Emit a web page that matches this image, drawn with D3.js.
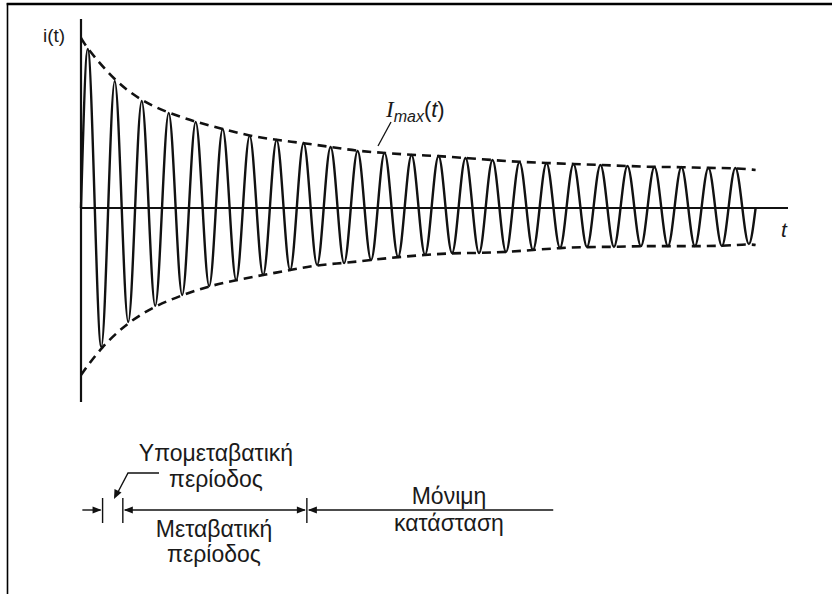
<!DOCTYPE html>
<html>
<head>
<meta charset="utf-8">
<script src="https://cdn.jsdelivr.net/npm/d3@7"></script>
<style>
  html, body { margin: 0; padding: 0; background: #fff; }
  svg { display: block; }
  text { fill: #1a1a1a; }
</style>
</head>
<body>
<svg id="chart" width="832" height="594"></svg>
<script>
// Short-circuit current i(t): amplitude of each positive peak and each
// negative trough, one value per cycle, in % of the initial peak value.
const peakValues = [93.5, 74.7, 62.9, 55.9, 50.6, 46.5, 42.4, 40.0, 38.2, 35.9,
                    33.5, 32.4, 31.2, 30.6, 29.4, 28.2, 27.1, 26.5, 25.9, 25.3,
                    24.7, 24.1, 24.1, 23.5, 23.5];
const troughValues = [81.8, 67.1, 57.6, 51.2, 45.9, 42.4, 39.4, 36.5, 33.5, 32.4,
                      30.6, 28.8, 27.6, 26.5, 26.5, 25.9, 24.7, 23.5, 22.9, 22.9,
                      22.4, 22.4, 22.4, 22.4, 21.2];
// Envelope I_max(t) at the start and at the end of the trace (%).
const envelopeStart = { top: 100, bottom: 98.2 };
const envelopeEnd = { top: 22.4, bottom: 21.8 };
const traceEnd = 25;            // cycles shown
// Time boundaries (in cycles) of the three periods and the span of the dimension line.
const phaseBounds = [0.8, 1.55, 8.37];
const dimensionSpan = [0.05, 17.5];
const phaseLabels = [
  ["Υπομεταβατική", "περίοδος"],
  ["Μεταβατική", "περίοδος"],
  ["Μόνιμη", "κατάσταση"]
];

const svg = d3.select("#chart");
const ink = "#111";

// Scales: time in cycles, current in % of first peak.
const x = d3.scaleLinear().domain([0, 26.2]).range([81, 788]);
const y = d3.scaleLinear().domain([-100, 100]).range([378, 38]);

// Frame
svg.append("line").attr("x1", 7.5).attr("x2", 7.5).attr("y1", 3).attr("y2", 594)
  .attr("stroke", "#000").attr("stroke-width", 1.6);
svg.append("line").attr("x1", 6.7).attr("x2", 832).attr("y1", 4).attr("y2", 4)
  .attr("stroke", "#000").attr("stroke-width", 2.4);

// Axes
svg.append("line").attr("x1", x(0)).attr("x2", x(0)).attr("y1", 19).attr("y2", 402)
  .attr("stroke", ink).attr("stroke-width", 2.2);
svg.append("line").attr("x1", x(0)).attr("x2", x.range()[1]).attr("y1", y(0)).attr("y2", y(0))
  .attr("stroke", ink).attr("stroke-width", 2.2);

svg.append("text").attr("x", 43).attr("y", 42)
  .attr("font-family", "Liberation Sans, Arial, sans-serif").attr("font-size", 19)
  .text("i(t)");
svg.append("text").attr("x", 781).attr("y", 237)
  .attr("font-family", "Liberation Sans, Arial, sans-serif").attr("font-size", 21)
  .attr("font-style", "italic").text("t");

// Waveform: zero at t=0, alternating peaks and troughs, back to zero at the end.
const wavePoints = [[0, 0]];
peakValues.forEach((p, k) => {
  wavePoints.push([k + 0.25, p]);
  wavePoints.push([k + 0.75, -troughValues[k]]);
});
wavePoints.push([traceEnd, 0]);

const line = d3.line().x(d => x(d[0])).y(d => y(d[1])).curve(d3.curveMonotoneX);
svg.append("path").attr("d", line(wavePoints))
  .attr("fill", "none").attr("stroke", ink).attr("stroke-width", 2.4)
  .attr("stroke-linejoin", "round");

// Envelope I_max(t), dashed, through the peaks and the troughs.
const topEnv = [[0, envelopeStart.top]]
  .concat(peakValues.map((p, k) => [k + 0.25, p]))
  .concat([[traceEnd, envelopeEnd.top]]);
const botEnv = [[0, -envelopeStart.bottom]]
  .concat(troughValues.map((p, k) => [k + 0.75, -p]))
  .concat([[traceEnd, -envelopeEnd.bottom]]);
const envLine = d3.line().x(d => x(d[0])).y(d => y(d[1])).curve(d3.curveBasis);
[topEnv, botEnv].forEach(pts => {
  svg.append("path").attr("d", envLine(pts))
    .attr("fill", "none").attr("stroke", ink).attr("stroke-width", 2.6)
    .attr("stroke-dasharray", "9,6");
});

// I_max(t) label with leader
const lbl = svg.append("text").attr("x", 386).attr("y", 117);
lbl.append("tspan").attr("font-family", "Liberation Serif, Times New Roman, serif")
  .attr("font-style", "italic").attr("font-size", 23).text("I");
lbl.append("tspan").attr("font-family", "Liberation Sans, Arial, sans-serif")
  .attr("font-style", "italic").attr("font-size", 16).attr("dy", 5).text("max");
lbl.append("tspan").attr("font-family", "Liberation Sans, Arial, sans-serif")
  .attr("font-size", 22).attr("dy", -5).text("(");
lbl.append("tspan").attr("font-family", "Liberation Sans, Arial, sans-serif")
  .attr("font-size", 22).attr("font-style", "italic").text("t");
lbl.append("tspan").attr("font-family", "Liberation Sans, Arial, sans-serif")
  .attr("font-size", 22).text(")");
svg.append("line").attr("x1", 391).attr("y1", 122).attr("x2", 378).attr("y2", 146)
  .attr("stroke", ink).attr("stroke-width", 1.3);

// Period annotation below the chart
const dimY = 510;
const g = svg.append("g").attr("stroke", ink).attr("fill", "none");
function arrowHead(px, py, dir) {
  // dir: +1 points right, -1 points left
  svg.append("path")
    .attr("d", `M${px},${py} L${px - dir * 9},${py - 3.5} L${px - dir * 9},${py + 3.5} Z`)
    .attr("fill", ink);
}
phaseBounds.forEach(t => {
  g.append("line").attr("x1", x(t)).attr("x2", x(t)).attr("y1", 498).attr("y2", 523)
    .attr("stroke-width", 1.4);
});
// left segment pointing into the first boundary
g.append("line").attr("x1", x(dimensionSpan[0])).attr("x2", x(phaseBounds[0]) - 2)
  .attr("y1", dimY).attr("y2", dimY).attr("stroke-width", 1.4);
arrowHead(x(phaseBounds[0]) - 1, dimY, 1);
// transient period, arrows on both ends
g.append("line").attr("x1", x(phaseBounds[1]) + 2).attr("x2", x(phaseBounds[2]) - 2)
  .attr("y1", dimY).attr("y2", dimY).attr("stroke-width", 1.4);
arrowHead(x(phaseBounds[1]) + 1, dimY, -1);
arrowHead(x(phaseBounds[2]) - 1, dimY, 1);
// steady state
g.append("line").attr("x1", x(phaseBounds[2]) + 2).attr("x2", x(dimensionSpan[1]))
  .attr("y1", dimY).attr("y2", dimY).attr("stroke-width", 1.4);
arrowHead(x(phaseBounds[2]) + 1, dimY, -1);

// leader from the sub-transient label to the gap
g.append("path").attr("d", "M159,473 L128,473 L118,492").attr("stroke-width", 1.4);
svg.append("path").attr("d", "M114,499 L114.5,489 L121.5,492.5 Z").attr("fill", ink);

const labelFont = "Liberation Sans, Arial, sans-serif";
const labelPos = [
  { cx: 216, y1: 461, y2: 487 },
  { cx: 214, y1: 537, y2: 562 },
  { cx: 449, y1: 504, y2: 531 }
];
phaseLabels.forEach((pair, i) => {
  const p = labelPos[i];
  pair.forEach((txt, j) => {
    svg.append("text").attr("x", p.cx).attr("y", j === 0 ? p.y1 : p.y2)
      .attr("text-anchor", "middle").attr("font-family", labelFont)
      .attr("font-size", 23).text(txt);
  });
});
</script>
</body>
</html>
